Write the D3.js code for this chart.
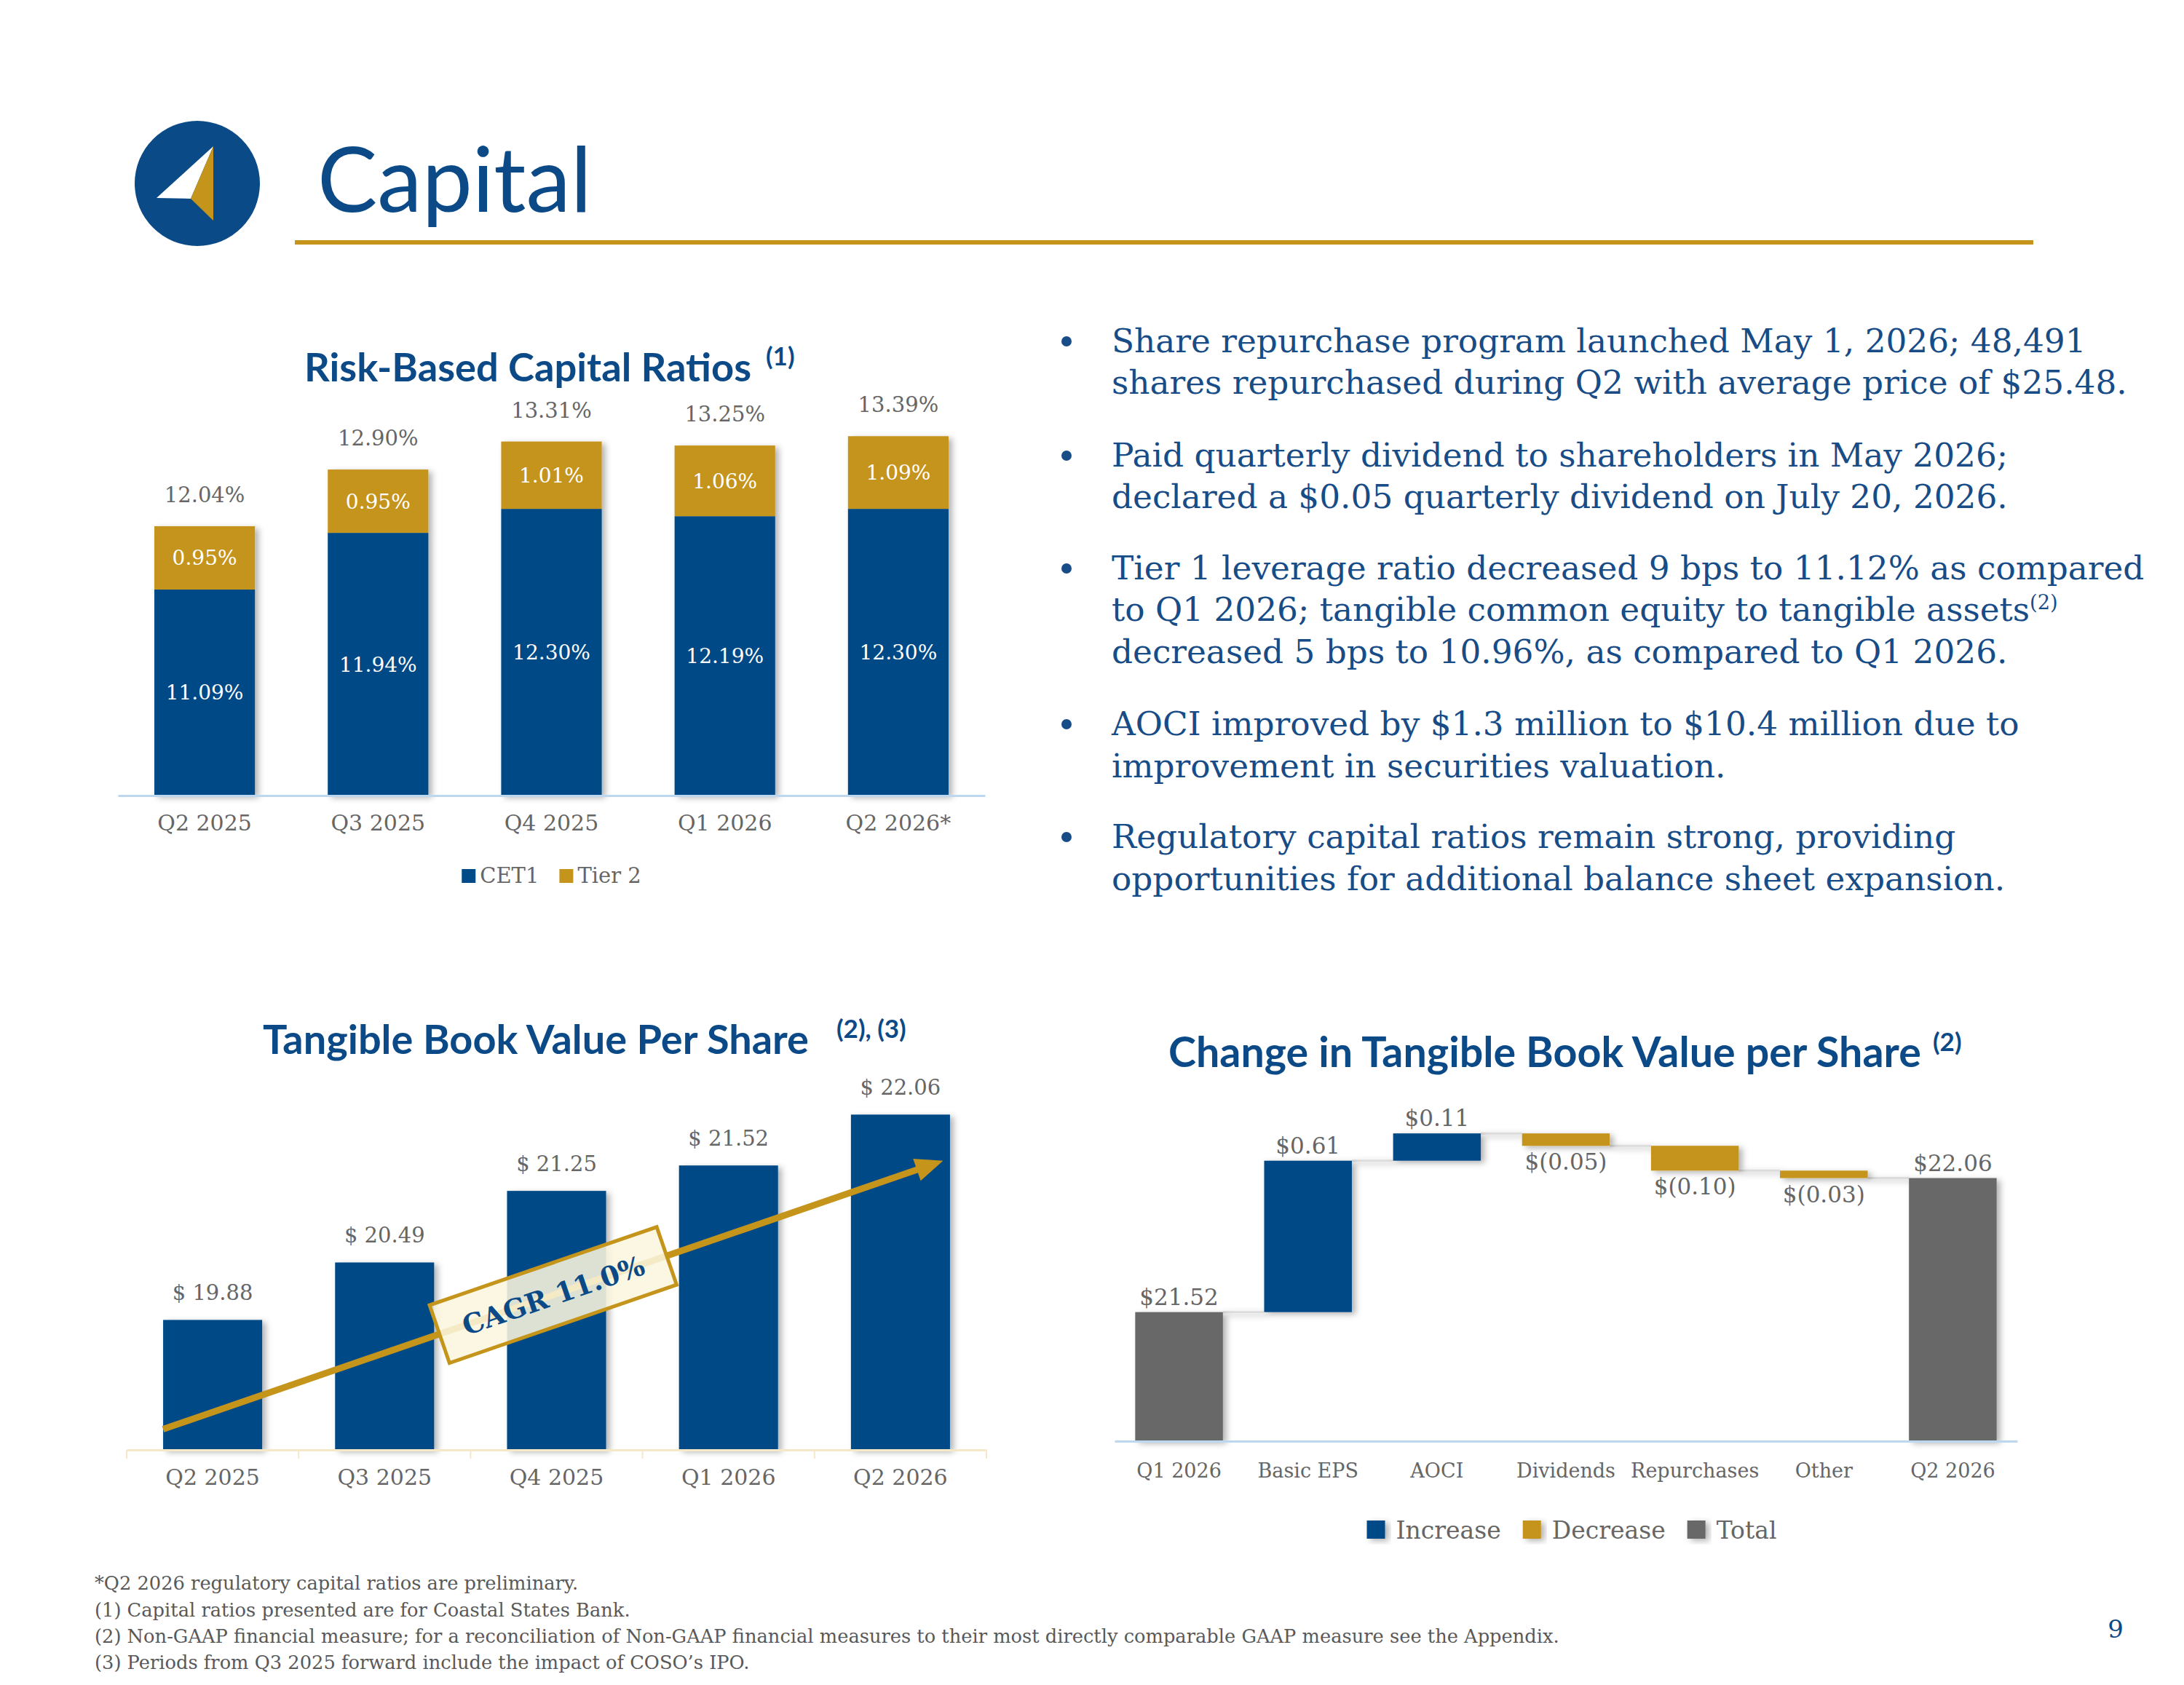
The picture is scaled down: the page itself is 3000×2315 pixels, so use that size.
<!DOCTYPE html>
<html>
<head>
<meta charset="utf-8">
<script src="https://cdn.jsdelivr.net/npm/d3@7"></script>
<style>
  body { margin: 0; background: #fff; }
  svg { display: block; }
</style>
</head>
<body>
<div id="vis-container"></div>
<script>
const width = 3000;
const height = 2315;

const blue = "#004a87";
const gold = "#c5941a";
const totalGrey = "#686868";
const labelGrey = "#666666";
const titleBlue = "#0b4a87";
const serif = "'DejaVu Serif', Georgia, serif";
const sans = "Lato, 'Open Sans', sans-serif";

// Risk-based capital ratios
const ratioQuarters = ["Q2 2025", "Q3 2025", "Q4 2025", "Q1 2026", "Q2 2026*"];
const cet1 = [11.09, 11.94, 12.30, 12.19, 12.30];
const tier2 = [0.95, 0.95, 1.01, 1.06, 1.09];
const totalCapital = [12.04, 12.90, 13.31, 13.25, 13.39];
const ratioSeries = ["CET1", "Tier 2"];

// Tangible book value per share
const tbvQuarters = ["Q2 2025", "Q3 2025", "Q4 2025", "Q1 2026", "Q2 2026"];
const tbvValues = [19.88, 20.49, 21.25, 21.52, 22.06];
const cagrLabel = "CAGR 11.0%";

// Change in TBVPS (waterfall)
const wfSteps = ["Q1 2026", "Basic EPS", "AOCI", "Dividends", "Repurchases", "Other", "Q2 2026"];
const wfValues = [21.52, 0.61, 0.11, -0.05, -0.10, -0.03, 22.06];
const wfKinds = ["Total", "Increase", "Increase", "Decrease", "Decrease", "Decrease", "Total"];
const wfLegend = ["Increase", "Decrease", "Total"];

const bullets = [
  ["Share repurchase program launched May 1, 2026; 48,491",
   "shares repurchased during Q2 with average price of $25.48."],
  ["Paid quarterly dividend to shareholders in May 2026;",
   "declared a $0.05 quarterly dividend on July 20, 2026."],
  ["Tier 1 leverage ratio decreased 9 bps to 11.12% as compared",
   "to Q1 2026; tangible common equity to tangible assets^(2)",
   "decreased 5 bps to 10.96%, as compared to Q1 2026."],
  ["AOCI improved by $1.3 million to $10.4 million due to",
   "improvement in securities valuation."],
  ["Regulatory capital ratios remain strong, providing",
   "opportunities for additional balance sheet expansion."]
];

const footnotes = [
  "*Q2 2026 regulatory capital ratios are preliminary.",
  "(1) Capital ratios presented are for Coastal States Bank.",
  "(2) Non-GAAP financial measure; for a reconciliation of Non-GAAP financial measures to their most directly comparable GAAP measure see the Appendix.",
  "(3) Periods from Q3 2025 forward include the impact of COSO\u2019s IPO."
];

const svg = d3.select("#vis-container")
  .append("svg")
  .attr("width", width)
  .attr("height", height)
  .attr("viewBox", [0, 0, width, height]);

const defs = svg.append("defs");
defs.append("filter").attr("id", "shadow")
  .attr("x", "-20%").attr("y", "-20%").attr("width", "150%").attr("height", "150%")
  .append("feDropShadow")
  .attr("dx", 5).attr("dy", 3).attr("stdDeviation", 4)
  .attr("flood-color", "#000").attr("flood-opacity", 0.3);

// scale a text's font size so it spans the wanted width
function fitText(sel, target) {
  const w = sel.node().getComputedTextLength();
  const fs = parseFloat(sel.attr("font-size")) * target / w;
  sel.attr("font-size", fs.toFixed(2));
  return fs;
}

// ---------- header ----------
{
  const logo = svg.append("g");
  logo.append("circle").attr("cx", 271).attr("cy", 252).attr("r", 86).attr("fill", "#0a4a86");
  logo.append("polygon").attr("points", "293,201 215,272 262,273").attr("fill", "#fff");
  logo.append("polygon").attr("points", "293,201 262,273 293,303").attr("fill", gold);

  const t = svg.append("text")
    .attr("x", 436).attr("y", 291)
    .attr("font-family", sans).attr("font-size", 125)
    .attr("fill", titleBlue)
    .text("Capital");
  fitText(t, 377);

  svg.append("line")
    .attr("x1", 405).attr("x2", 2793).attr("y1", 333).attr("y2", 333)
    .attr("stroke", gold).attr("stroke-width", 6);
}

function chartTitle(x, y, text, sup, target, supGap) {
  const t = svg.append("text")
    .attr("x", x).attr("y", y)
    .attr("font-family", sans).attr("font-weight", 700).attr("font-size", 46)
    .attr("fill", titleBlue).text(text);
  fitText(t, target);
  svg.append("text")
    .attr("x", x + target + supGap).attr("y", y - 22)
    .attr("font-family", sans).attr("font-weight", 700).attr("font-size", 35)
    .attr("fill", titleBlue).text(sup);
}

// ---------- Plot 1: risk-based capital ratios ----------
{
  chartTitle(418, 524, "Risk-Based Capital Ratios", "(1)", 614, 20);

  const rows = ratioQuarters.map((q, i) => ({ q: q, CET1: cet1[i], "Tier 2": tier2[i], total: totalCapital[i] }));
  const stacked = d3.stack().keys(ratioSeries)(rows);
  const colors = d3.scaleOrdinal().domain(ratioSeries).range([blue, gold]);

  const x1 = d3.scaleBand().domain(ratioQuarters).range([162, 1353]).paddingInner(0.42).paddingOuter(0.21);
  const y1 = d3.scaleLinear().domain([8, 14]).range([1093, 543.4]).clamp(true);

  svg.append("g").attr("filter", "url(#shadow)")
    .selectAll("g")
    .data(stacked)
    .join("g")
      .attr("fill", d => colors(d.key))
    .selectAll("rect")
    .data(d => d)
    .join("rect")
      .attr("x", d => x1(d.data.q))
      .attr("y", d => y1(d[1]))
      .attr("width", x1.bandwidth())
      .attr("height", d => y1(d[0]) - y1(d[1]));

  svg.append("g")
    .attr("transform", `translate(0,${1093})`)
    .call(d3.axisBottom(x1).tickSize(0).tickPadding(27))
    .call(g => g.select(".domain").attr("stroke", "#bdd7ee").attr("stroke-width", 3))
    .call(g => g.selectAll("text")
      .attr("font-family", serif).attr("font-size", 30).attr("fill", labelGrey));

  // segment labels
  svg.append("g")
    .selectAll("g")
    .data(stacked)
    .join("g")
    .selectAll("text")
    .data(d => d)
    .join("text")
      .attr("x", d => x1(d.data.q) + x1.bandwidth() / 2)
      .attr("y", d => (y1(d[0]) + y1(d[1])) / 2 + 10)
      .attr("text-anchor", "middle")
      .attr("font-family", serif).attr("font-size", 28)
      .attr("fill", "#fff")
      .text(d => (d[1] - d[0]).toFixed(2) + "%");

  // total labels
  svg.append("g")
    .selectAll("text")
    .data(rows)
    .join("text")
      .attr("x", d => x1(d.q) + x1.bandwidth() / 2)
      .attr("y", d => y1(d.CET1 + d["Tier 2"]) - 33)
      .attr("text-anchor", "middle")
      .attr("font-family", serif).attr("font-size", 29)
      .attr("fill", labelGrey)
      .text(d => d.total.toFixed(2) + "%");

  // legend
  const legend = svg.append("g");
  const items = legend.selectAll("g").data(ratioSeries).join("g");
  items.append("rect").attr("width", 19).attr("height", 19).attr("y", -19).attr("fill", d => colors(d));
  items.append("text").attr("x", 25).attr("y", 0)
    .attr("font-family", serif).attr("font-size", 29).attr("fill", labelGrey)
    .text(d => d);
  let cursor = 0;
  items.each(function () {
    d3.select(this).attr("transform", `translate(${cursor},0)`);
    cursor += 25 + d3.select(this).select("text").node().getComputedTextLength() + 28;
  });
  cursor -= 28;
  const mid = (x1.range()[0] + x1.range()[1]) / 2;
  legend.attr("transform", `translate(${mid - cursor / 2},${1213})`);
}

// ---------- Plot 2: tangible book value per share ----------
{
  chartTitle(361, 1448, "Tangible Book Value Per Share", "(2), (3)", 750, 38);

  const x2 = d3.scaleBand().domain(tbvQuarters).range([174, 1355]).paddingInner(0.424).paddingOuter(0.212);
  const y2 = d3.scaleLinear().domain([18.5, 22.5]).range([1992, 1474.4]).clamp(true);

  svg.append("g").attr("filter", "url(#shadow)")
    .selectAll("rect")
    .data(tbvValues)
    .join("rect")
      .attr("x", (d, i) => x2(tbvQuarters[i]))
      .attr("y", d => y2(d))
      .attr("width", x2.bandwidth())
      .attr("height", d => y2.range()[0] - y2(d))
      .attr("fill", blue);

  svg.append("g")
    .attr("transform", `translate(0,${1992})`)
    .call(d3.axisBottom(x2).tickSize(0).tickPadding(27))
    .call(g => g.select(".domain").attr("stroke", "#f4e8c8").attr("stroke-width", 3))
    .call(g => g.selectAll("text")
      .attr("font-family", serif).attr("font-size", 30).attr("fill", labelGrey));

  // category boundary ticks
  svg.append("g")
    .selectAll("line")
    .data(d3.range(tbvQuarters.length + 1))
    .join("line")
      .attr("x1", i => x2.range()[0] + i * x2.step())
      .attr("x2", i => x2.range()[0] + i * x2.step())
      .attr("y1", 1992).attr("y2", 2004)
      .attr("stroke", "#f4e8c8").attr("stroke-width", 2);

  svg.append("g")
    .selectAll("text")
    .data(tbvValues)
    .join("text")
      .attr("x", (d, i) => x2(tbvQuarters[i]) + x2.bandwidth() / 2)
      .attr("y", d => y2(d) - 27)
      .attr("text-anchor", "middle")
      .attr("font-family", serif).attr("font-size", 29)
      .attr("fill", labelGrey)
      .text(d => "$ " + d.toFixed(2));

  // CAGR arrow across the bars
  const first = tbvQuarters[0], last = tbvQuarters[tbvQuarters.length - 1];
  const ax0 = x2(first), ay0 = y2(18.72);
  const ax1 = x2(last) + x2.bandwidth() * 0.93, ay1 = y2(21.57);
  const ang = Math.atan2(ay1 - ay0, ax1 - ax0);
  const deg = ang * 180 / Math.PI;
  const len = Math.hypot(ax1 - ax0, ay1 - ay0);

  const arrow = svg.append("g").attr("transform", `translate(${ax0},${ay0}) rotate(${deg})`);
  arrow.append("line").attr("x1", 0).attr("y1", 0).attr("x2", len - 30).attr("y2", 0)
    .attr("stroke", gold).attr("stroke-width", 9);
  arrow.append("polygon")
    .attr("points", `${len},0 ${len - 38},-16 ${len - 38},16`)
    .attr("fill", gold);

  const cx = (ax0 + ax1) / 2, cy = (ay0 + ay1) / 2;
  const box = svg.append("g").attr("transform", `translate(${cx},${cy}) rotate(${deg})`);
  box.append("rect")
    .attr("x", -165).attr("y", -42).attr("width", 330).attr("height", 84)
    .attr("fill", "#fbf6de").attr("fill-opacity", 0.88)
    .attr("stroke", gold).attr("stroke-width", 5);
  const ct = box.append("text")
    .attr("x", 0).attr("y", 14)
    .attr("text-anchor", "middle")
    .attr("font-family", serif).attr("font-weight", 700).attr("font-size", 40)
    .attr("fill", titleBlue)
    .text(cagrLabel);
  fitText(ct, 262);
}

// ---------- Plot 3: change in TBVPS waterfall ----------
{
  chartTitle(1605, 1466, "Change in Tangible Book Value per Share", "(2)", 1034, 16);

  let running = 0;
  const steps = wfSteps.map((s, i) => {
    let y0, y1v;
    if (wfKinds[i] === "Total") { y0 = 0; y1v = wfValues[i]; running = wfValues[i]; }
    else { y0 = running; y1v = running + wfValues[i]; running = y1v; }
    return { step: s, kind: wfKinds[i], value: wfValues[i], lo: Math.min(y0, y1v), hi: Math.max(y0, y1v), level: running };
  });

  const kindColor = d3.scaleOrdinal().domain(wfLegend).range([blue, gold, totalGrey]);
  const x3 = d3.scaleBand().domain(wfSteps).range([1531, 2771]).paddingInner(0.32).paddingOuter(0.16);
  const y3 = d3.scaleLinear().domain([21, 22.4]).range([1980, 1502.6]).clamp(true);

  // connectors
  svg.append("g").attr("filter", "url(#shadow)")
    .selectAll("line")
    .data(steps.slice(0, -1))
    .join("line")
      .attr("x1", d => x3(d.step) + x3.bandwidth())
      .attr("x2", (d, i) => x3(steps[i + 1].step))
      .attr("y1", d => y3(d.level))
      .attr("y2", d => y3(d.level))
      .attr("stroke", "#dcdcdc").attr("stroke-width", 3);

  svg.append("g").attr("filter", "url(#shadow)")
    .selectAll("rect")
    .data(steps)
    .join("rect")
      .attr("x", d => x3(d.step))
      .attr("y", d => y3(d.hi))
      .attr("width", x3.bandwidth())
      .attr("height", d => y3(d.lo) - y3(d.hi))
      .attr("fill", d => kindColor(d.kind));

  svg.append("g")
    .attr("transform", `translate(0,${1980})`)
    .call(d3.axisBottom(x3).tickSize(0).tickPadding(31))
    .call(g => g.select(".domain").attr("stroke", "#bdd7ee").attr("stroke-width", 3))
    .call(g => g.selectAll("text")
      .attr("font-family", serif).attr("font-size", 27).attr("fill", labelGrey));

  const money = v => v < 0 ? "$(" + Math.abs(v).toFixed(2) + ")" : "$" + v.toFixed(2);
  svg.append("g")
    .selectAll("text")
    .data(steps)
    .join("text")
      .attr("x", d => x3(d.step) + x3.bandwidth() / 2)
      .attr("y", d => d.kind === "Decrease" ? y3(d.lo) + 33 : y3(d.hi) - 10)
      .attr("text-anchor", "middle")
      .attr("font-family", serif).attr("font-size", 31)
      .attr("fill", labelGrey)
      .text(d => money(d.value));

  const legend = svg.append("g");
  const items = legend.selectAll("g").data(wfLegend).join("g");
  items.append("rect").attr("width", 25).attr("height", 25).attr("y", -25)
    .attr("fill", d => kindColor(d)).attr("filter", "url(#shadow)");
  items.append("text").attr("x", 40).attr("y", 0)
    .attr("font-family", serif).attr("font-size", 33).attr("fill", labelGrey)
    .text(d => d);
  let cursor = 0;
  items.each(function () {
    d3.select(this).attr("transform", `translate(${cursor},0)`);
    cursor += 40 + d3.select(this).select("text").node().getComputedTextLength() + 30;
  });
  cursor -= 30;
  const mid = (x3.range()[0] + x3.range()[1]) / 2;
  legend.attr("transform", `translate(${mid - cursor / 2 + 8},${2114})`);
}

// ---------- bullets ----------
{
  const g = svg.append("g").attr("font-family", serif).attr("fill", "#174c87");
  const baselines = [[484, 541], [641, 698], [796, 853, 911], [1010, 1068], [1165, 1223]];
  const probe = g.append("text").attr("font-size", 42).text(bullets[0][1]);
  const fs = parseFloat(probe.attr("font-size")) * 1395 / probe.node().getComputedTextLength();
  probe.remove();
  g.attr("font-size", fs.toFixed(2));

  bullets.forEach((lines, i) => {
    g.append("circle").attr("cx", 1465).attr("cy", baselines[i][0] - 15).attr("r", 7);
    lines.forEach((line, j) => {
      const parts = line.split("^");
      const t = g.append("text").attr("x", 1527).attr("y", baselines[i][j]).text(parts[0]);
      if (parts[1]) {
        t.append("tspan").attr("font-size", (fs * 0.6).toFixed(2)).attr("dy", -16).text(parts[1]);
      }
    });
  });
}

// ---------- footnotes ----------
{
  const g = svg.append("g").attr("font-family", serif).attr("fill", "#595959");
  const ys = [2184, 2221, 2257, 2293];
  const probe = g.append("text").attr("font-size", 24).text(footnotes[2]);
  const fs = 24 * 2013 / probe.node().getComputedTextLength();
  probe.remove();
  g.attr("font-size", fs.toFixed(2));
  g.selectAll("text").data(footnotes).join("text")
    .attr("x", 130).attr("y", (d, i) => ys[i]).text(d => d);

  svg.append("text").attr("x", 2906).attr("y", 2250).attr("text-anchor", "middle")
    .attr("font-family", serif).attr("font-size", 34).attr("fill", titleBlue).text("9");
}
</script>
</body>
</html>
